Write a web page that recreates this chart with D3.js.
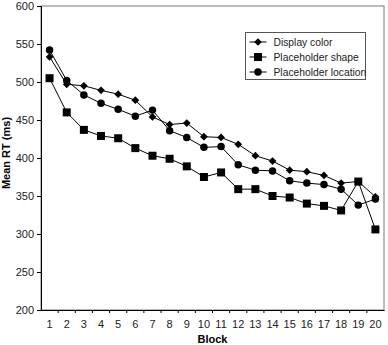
<!DOCTYPE html>
<html>
<head>
<meta charset="utf-8">
<script src="https://cdn.jsdelivr.net/npm/d3@7"></script>
<style>
    body { margin: 0; background: #fff; }
    #chart { width: 388px; height: 345px; }
    text { font-family: "Liberation Sans", Arial, sans-serif; }
</style>
</head>
<body>
<div id="chart"></div>
<script>
// chart data
const blocks = d3.range(1, 21).map(String);
const displayColor = [533, 497, 495, 489, 484, 476, 454, 444, 446, 428, 427, 418, 403, 396, 384, 382, 377, 367, 369, 349];
const placeholderShape = [505, 460, 437, 429, 426, 413, 403, 399, 389, 375, 381, 359, 359, 350, 348, 340, 337, 331, 369, 306];
const placeholderLocation = [542, 502, 483, 472, 464, 455, 463, 436, 427, 414, 415, 391, 384, 383, 370, 367, 365, 359, 338, 346];
const yTicks = [200, 250, 300, 350, 400, 450, 500, 550, 600];

// diamond is a square turned 45 degrees
const series = [
    {name: "Display color", values: displayColor, symbol: d3.symbolSquare, size: 30, rotate: 45},
    {name: "Placeholder shape", values: placeholderShape, symbol: d3.symbolSquare, size: 64, rotate: 0},
    {name: "Placeholder location", values: placeholderLocation, symbol: d3.symbolCircle, size: 44, rotate: 0}
];

let margin = {top: 6, right: 4, bottom: 35, left: 41};
let width = 388 - margin.left - margin.right;
let height = 345 - margin.top - margin.bottom;

let svg = d3.select("#chart").append("svg")
    .attr("width", 388)
    .attr("height", 345)
    .append("g")
    .attr("transform", "translate(" + margin.left + "," + margin.top + ")");

let x = d3.scaleBand().domain(blocks).range([0, width]);
let y = d3.scaleLinear().domain([200, 600]).range([height, 0]);

// plot frame (top and right)
svg.append("rect")
    .attr("x", 0).attr("y", 0)
    .attr("width", width).attr("height", height)
    .attr("fill", "none")
    .attr("stroke", "#777")
    .attr("stroke-width", 1);

// y axis
let yAxis = svg.append("g")
    .call(d3.axisLeft(y).tickValues(yTicks).tickSize(4).tickPadding(3));
yAxis.selectAll("text").attr("font-size", 11).attr("fill", "#222").style("font-family", "Liberation Sans, Arial, sans-serif");
yAxis.select(".domain").attr("stroke", "#000");

// x axis, ticks between blocks
let xAxis = svg.append("g")
    .attr("transform", "translate(0," + height + ")")
    .call(d3.axisBottom(x).tickSize(0).tickPadding(10));
xAxis.selectAll("text").attr("font-size", 11).attr("fill", "#222").style("font-family", "Liberation Sans, Arial, sans-serif");
xAxis.select(".domain").attr("stroke", "#000");
xAxis.selectAll(".bound")
    .data(blocks.slice(1))
    .enter().append("line")
    .attr("x1", d => x(d)).attr("x2", d => x(d))
    .attr("y1", 0).attr("y2", 3)
    .attr("stroke", "#000");

// axis titles
svg.append("text")
    .attr("transform", "translate(" + (-31) + "," + (height / 2 - 5) + ") rotate(-90)")
    .attr("text-anchor", "middle")
    .attr("font-size", 11)
    .attr("font-weight", "bold")
    .text("Mean RT (ms)");

svg.append("text")
    .attr("x", width / 2)
    .attr("y", height + 33)
    .attr("text-anchor", "middle")
    .attr("font-size", 11)
    .attr("font-weight", "bold")
    .text("Block");

// lines and markers
let line = d3.line()
    .x((d, i) => x(blocks[i]) + x.bandwidth() / 2)
    .y(d => y(d));

series.forEach(function (s) {
    svg.append("path")
        .datum(s.values)
        .attr("fill", "none")
        .attr("stroke", "#000")
        .attr("stroke-width", 1)
        .attr("d", line);

    svg.selectAll(null)
        .data(s.values)
        .enter().append("path")
        .attr("d", d3.symbol().type(s.symbol).size(s.size))
        .attr("transform", (d, i) => "translate(" + (x(blocks[i]) + x.bandwidth() / 2) + "," + y(d) + ") rotate(" + s.rotate + ")")
        .attr("fill", "#000");
});

// legend
let legend = svg.append("g")
    .attr("transform", "translate(" + (245.5 - margin.left) + "," + (32.5 - margin.top) + ")");

legend.append("rect")
    .attr("width", 120).attr("height", 47)
    .attr("fill", "#fff")
    .attr("stroke", "#555");

series.forEach(function (s, i) {
    let yy = 9.5 + i * 15;
    legend.append("line")
        .attr("x1", 4).attr("x2", 21)
        .attr("y1", yy).attr("y2", yy)
        .attr("stroke", "#000");
    legend.append("path")
        .attr("d", d3.symbol().type(s.symbol).size(s.size))
        .attr("transform", "translate(12.5," + yy + ") rotate(" + s.rotate + ")")
        .attr("fill", "#000");
    legend.append("text")
        .attr("x", 28)
        .attr("y", yy + 3.5)
        .attr("font-size", 10.3)
        .attr("fill", "#222")
        .text(s.name);
});
</script>
</body>
</html>
